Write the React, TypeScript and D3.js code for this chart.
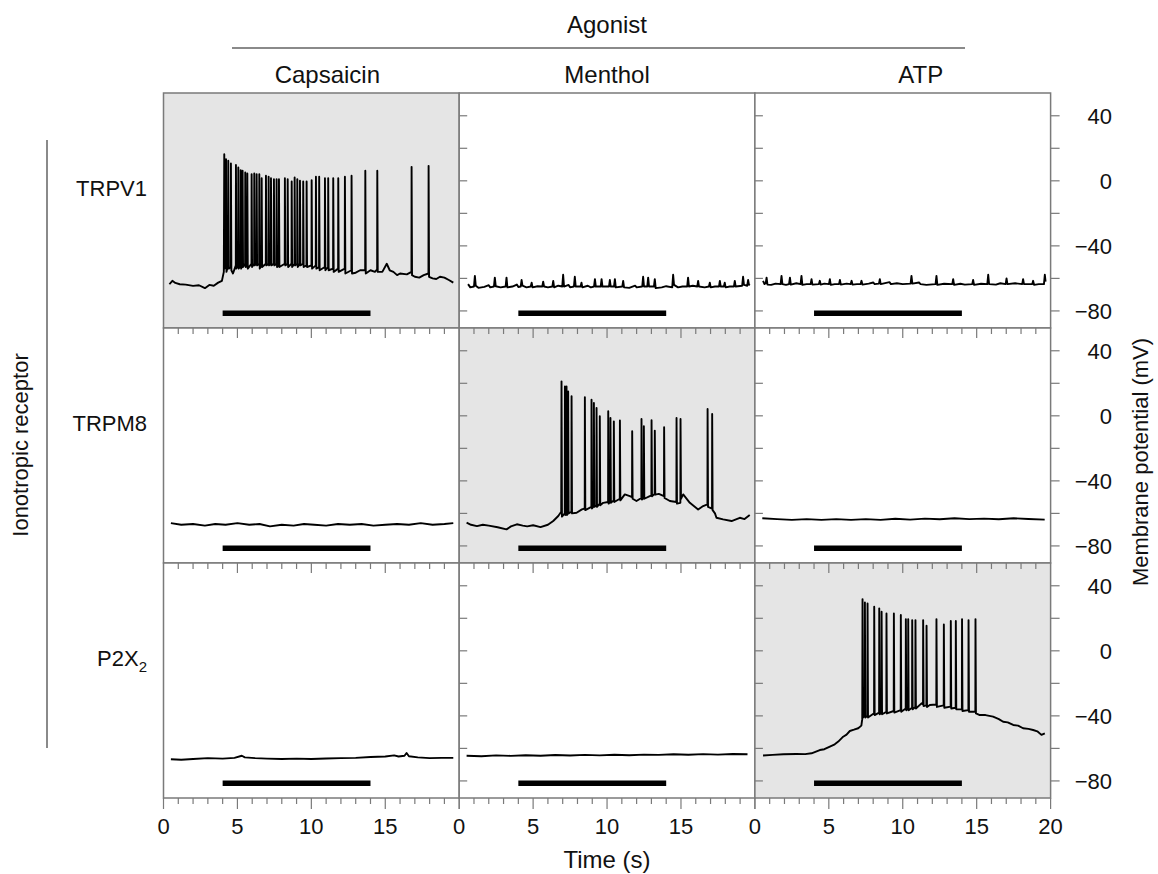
import React from "react";
import * as d3 from "d3";

// agonists (columns) and receptors (rows)
const agonists = ["Capsaicin", "Menthol", "ATP"];
const receptors = ["TRPV1", "TRPM8", "P2X2"];
const activePairs = [[0, 0], [1, 1], [2, 2]];

const timeTicks = d3.range(0, 21, 1);
const timeLabels = [0, 5, 10, 15, 20];
const mvTicks = [-80, -60, -40, -20, 0, 20, 40];
const mvLabels = [40, 0, -40, -80];

// stimulus bar (s) and its level (mV)
const stimulus = [4, 14];
const stimulusLevel = -81.5;

// traces: [time s, membrane potential mV]
const trpv1Capsaicin = [
  [0.4, -63.6], [0.6, -61.5], [0.8, -62.8], [1.1, -63.6], [1.5, -63.8], [2.0, -64.6], [2.4, -64.2], [2.8, -66],
  [3.1, -64], [3.4, -64.5], [3.7, -62.6], [3.95, -61.5], [4.08, -56],
  [4.11, 16.4], [4.14, -54], [4.22, -51], [4.23, 13.3], [4.26, -56], [4.37, -52], [4.38, 12.3], [4.41, -54],
  [4.55, -53], [4.56, 10.7], [4.59, -55], [4.7, -57], [4.89, -52], [4.9, 9.8], [4.93, -54], [5.05, -52], [5.06, 8.2],
  [5.09, -54], [5.21, -52], [5.22, 6.6], [5.25, -54], [5.34, -52], [5.35, 6.2], [5.38, -53], [5.52, -51], [5.53, 5.1],
  [5.56, -53], [5.66, -52], [5.67, 4.5], [5.7, -54], [5.95, -51], [5.96, 4.1], [5.99, -53], [6.13, -51], [6.14, 4.5],
  [6.17, -52], [6.29, -51], [6.3, 4.1], [6.33, -52], [6.47, -51], [6.48, 4.1], [6.51, -54], [6.63, -52], [6.64, 1.6],
  [6.67, -53], [6.92, -51], [6.93, 3.1], [6.96, -52], [7.1, -51], [7.11, 2.5], [7.14, -52], [7.26, -51], [7.27, 1.6],
  [7.3, -52], [7.46, -51], [7.47, 1.0], [7.5, -52], [7.64, -51], [7.65, 1.0], [7.68, -53], [7.8, -52], [7.81, 1.0],
  [7.84, -53], [8.2, -51], [8.21, 1.6], [8.24, -52], [8.39, -51], [8.4, 1.0], [8.43, -53], [8.66, -51], [8.67, -0.4],
  [8.7, -53], [8.86, -51], [8.87, 2.0], [8.9, -52], [9.04, -51], [9.05, 1.0], [9.08, -53], [9.22, -51], [9.23, 0],
  [9.26, -52], [9.44, -51], [9.45, -0.4], [9.48, -53], [9.67, -52], [9.68, -0.4], [9.71, -53], [10.01, -52],
  [10.02, 0.4], [10.05, -54], [10.3, -52], [10.31, 2.5], [10.34, -54], [10.52, -53], [10.53, 2.5], [10.56, -55],
  [10.91, -53], [10.92, 1.6], [10.95, -55], [11.13, -53], [11.14, 1.6], [11.17, -55], [11.47, -54], [11.48, 1.6],
  [11.51, -56], [11.81, -54], [11.82, 1.6], [11.85, -56], [12.26, -54], [12.27, 2.5], [12.3, -57], [12.71, -55],
  [12.72, 3.1], [12.75, -57], [13.0, -56.5], [13.3, -55], [13.64, -55], [13.65, 6.2], [13.68, -57], [14.0, -55],
  [14.3, -56], [14.45, -54.5], [14.46, 6.2], [14.49, -56], [14.8, -56], [15.1, -51], [15.3, -55], [15.55, -56],
  [15.8, -58], [16.0, -57], [16.46, -57.5], [16.77, -56], [16.78, 8.6], [16.81, -58], [17.0, -59], [17.3, -59.5],
  [17.6, -58], [17.92, -57], [17.93, 9.2], [17.96, -59], [18.2, -60], [18.45, -60.4], [18.7, -59], [19.0, -59.5],
  [19.3, -61], [19.6, -62.6],
];

const trpv1Menthol = [
  [0.6, -63.5], [0.75, -65.5], [1.0, -65], [1.06, -58.5], [1.12, -64.5], [1.3, -65.8], [1.7, -65.2], [2.0, -64.2],
  [2.1, -65.5], [2.35, -65], [2.41, -59.5], [2.47, -64.8], [2.8, -65.5], [3.14, -65], [3.2, -59.5], [3.26, -65.5],
  [3.6, -65], [3.9, -63.8], [4.0, -65.3], [4.16, -65], [4.22, -61], [4.28, -64.5], [4.55, -65.5], [4.84, -65],
  [4.9, -62.6], [4.96, -65.5], [5.3, -64.8], [5.62, -65], [5.68, -62], [5.74, -65], [6.0, -65.5], [6.3, -65],
  [6.36, -61.5], [6.42, -65.5], [6.7, -64.5], [6.97, -65], [7.03, -57.8], [7.09, -65], [7.4, -64], [7.5, -65.5],
  [7.76, -65], [7.82, -59], [7.88, -65], [8.21, -65], [8.27, -62.6], [8.33, -65.5], [8.7, -64.5], [8.9, -65.5],
  [9.12, -65], [9.18, -60.5], [9.24, -65], [9.57, -65], [9.63, -60.5], [9.69, -65], [10.13, -65], [10.19, -61],
  [10.25, -65], [10.47, -65], [10.53, -60.5], [10.59, -65.5], [11.03, -65], [11.09, -61.5], [11.15, -65.5],
  [11.5, -65.8], [11.9, -64.5], [12.0, -65.5], [12.38, -65], [12.44, -59], [12.5, -65], [12.72, -65], [12.78, -59.5],
  [12.84, -65], [13.17, -65], [13.23, -60.5], [13.29, -66], [13.7, -65.5], [14.0, -64.8], [14.41, -65.5],
  [14.47, -57.8], [14.53, -64], [14.8, -65.5], [15.1, -65], [15.42, -65], [15.48, -59.5], [15.54, -65], [15.8, -64.5],
  [16.1, -65], [16.16, -61.5], [16.22, -65], [16.6, -65.5], [16.89, -65], [16.95, -62.6], [17.01, -65.5], [17.3, -65],
  [17.57, -65], [17.63, -61.5], [17.69, -65], [17.9, -65], [17.96, -62.6], [18.02, -65.5], [18.3, -65], [18.58, -65],
  [18.64, -61.5], [18.7, -65], [19.14, -64.5], [19.2, -59], [19.26, -64], [19.48, -64.5], [19.54, -61], [19.6, -64],
  [19.65, -63.5],
];

const trpv1Atp = [
  [0.55, -61.5], [0.65, -63.5], [0.73, -63], [0.79, -59.5], [0.85, -63.8], [1.1, -64], [1.4, -63.2], [1.74, -63.5],
  [1.8, -58.5], [1.86, -63.5], [2.1, -64], [2.31, -63.5], [2.37, -59.5], [2.43, -63.8], [2.8, -63], [3.09, -63.5],
  [3.15, -58.5], [3.21, -64], [3.5, -63.5], [3.77, -63.5], [3.83, -60.5], [3.89, -63.8], [4.33, -63.5], [4.39, -61.5],
  [4.45, -63.8], [4.7, -63.2], [5.01, -63.5], [5.07, -60.5], [5.13, -64], [5.4, -63.5], [5.69, -63.5], [5.75, -61],
  [5.81, -63.8], [6.2, -63.2], [6.48, -63.5], [6.54, -61.5], [6.6, -63.8], [6.9, -63.5], [7.15, -63.5], [7.21, -61.5],
  [7.27, -63.8], [7.7, -63.2], [8.0, -62.5], [8.1, -63.5], [8.39, -63.2], [8.45, -60.5], [8.51, -63.5], [9.1, -62.3],
  [9.2, -63.5], [9.6, -63], [10.0, -63.5], [10.53, -63.2], [10.59, -58.5], [10.65, -63.2], [11.1, -62.5],
  [11.2, -63.5], [11.6, -64], [12.22, -63.5], [12.28, -58.5], [12.34, -64], [12.8, -63.3], [13.35, -63.5],
  [13.41, -60.5], [13.47, -64], [13.9, -63.3], [14.2, -63.8], [14.7, -63.5], [14.76, -61], [14.82, -64], [15.3, -63.3],
  [15.72, -63.5], [15.78, -57.8], [15.84, -63.5], [16.3, -63.8], [16.6, -63], [16.96, -63.5], [17.02, -60],
  [17.08, -63.5], [17.6, -63], [18.08, -63.5], [18.14, -60.5], [18.2, -63.5], [18.76, -63.5], [18.82, -61.5],
  [18.88, -64], [19.2, -63.5], [19.55, -63.5], [19.61, -57.8], [19.66, -62],
];

const trpm8Capsaicin = [
  [0.5, -66], [1.2, -67], [2.0, -66.5], [2.8, -67.5], [3.5, -66.5], [4.2, -67], [5.0, -66], [5.8, -67], [6.5, -66.5],
  [7.2, -68], [8.0, -67], [8.8, -67.5], [9.5, -66.5], [10.2, -67], [11.0, -67.5], [11.8, -66.5], [12.6, -67],
  [13.4, -66.5], [14.2, -67.5], [15.0, -67], [15.8, -66.5], [16.6, -67], [17.4, -66], [18.2, -67], [19.0, -66.5],
  [19.6, -66],
];

const trpm8Menthol = [
  [0.5, -65.7], [0.8, -67], [1.2, -67.8], [1.6, -67], [2.0, -67.5], [2.6, -68.5], [3.2, -69.8], [3.5, -68],
  [3.9, -66.7], [4.3, -67.5], [4.6, -68], [5.0, -67.3], [5.5, -68.4], [6.0, -67], [6.36, -64.7], [6.7, -61.6],
  [6.9, -59],
  [6.92, 21.2], [6.95, -62], [7.14, -60], [7.15, 18.1], [7.18, -61], [7.25, -60], [7.26, 18.1], [7.29, -61],
  [7.36, -60], [7.37, 15], [7.4, -60], [7.59, -59], [7.6, 12], [7.63, -60], [7.94, -59.6], [8.3, -57.5], [8.49, -57],
  [8.5, 11.4], [8.53, -58], [8.94, -56], [8.95, 9.9], [8.98, -57], [9.1, -55.5], [9.11, 7.9], [9.14, -56],
  [9.28, -55], [9.29, 4.8], [9.32, -56], [9.5, -54], [9.51, -0.3], [9.54, -55], [9.74, -53.5], [10.07, -53],
  [10.08, 2.8], [10.11, -54], [10.22, -52.5], [10.23, -1.3], [10.26, -53.5], [10.45, -52], [10.46, -3.4],
  [10.49, -53], [10.86, -51], [10.87, -2.9], [10.9, -52], [11.2, -48.3], [11.54, -49.4], [11.69, -50], [11.7, -9.5],
  [11.73, -51], [11.99, -52.4], [12.32, -50.5], [12.33, -1.9], [12.36, -51.5], [12.48, -50.5], [12.49, -6.4],
  [12.52, -51], [12.89, -49.4], [13.0, -49], [13.01, -2.7], [13.04, -49.5], [13.22, -48], [13.23, -9.1],
  [13.26, -48.5], [13.5, -48], [13.85, -49.4], [13.86, -7], [13.89, -50.5], [14.25, -52.4], [14.69, -53],
  [14.7, -1.3], [14.73, -54], [14.96, -53.5], [14.97, -1.9], [15.0, -51], [15.15, -48.3], [15.6, -53.5],
  [16.16, -57.6], [16.5, -55.5], [16.79, -54.5], [16.8, 4.2], [16.83, -56], [17.1, -57], [17.11, 1.1], [17.14, -58],
  [17.3, -60], [17.4, -62.7], [17.85, -63.7], [18.42, -64.7], [18.98, -62.7], [19.3, -63.5], [19.65, -61],
];

const trpm8Atp = [
  [0.5, -63], [1.5, -63.5], [2.5, -64], [3.5, -63.5], [4.5, -64], [5.5, -63.5], [6.5, -64], [7.5, -63.5], [8.5, -64],
  [9.5, -63.3], [10.5, -63.8], [11.5, -63.2], [12.5, -63.6], [13.5, -63], [14.5, -63.5], [15.5, -63.2],
  [16.5, -63.6], [17.5, -63], [18.5, -63.4], [19.6, -63.8],
];

const p2x2Capsaicin = [
  [0.5, -66.7], [1.2, -67], [2.0, -66.5], [3.0, -66], [4.0, -66.3], [4.8, -65.8], [5.3, -64.5], [5.5, -65.5],
  [6.2, -66], [7.0, -66.3], [8.0, -66.5], [9.0, -66.3], [10.0, -66.5], [11.0, -66.2], [12.0, -66], [13.0, -65.8],
  [14.0, -65.3], [15.0, -65], [15.6, -64.3], [15.9, -65], [16.3, -64.5], [16.44, -62.8], [16.6, -64.8],
  [17.2, -65.5], [18.0, -66], [18.8, -65.8], [19.6, -65.8],
];

const p2x2Menthol = [
  [0.5, -64.5], [1.5, -64.8], [2.5, -64.3], [3.5, -64.6], [4.5, -64.2], [5.5, -64.5], [6.5, -64.1], [7.5, -64.4],
  [8.5, -64], [9.5, -64.3], [10.5, -63.9], [11.5, -64.2], [12.5, -63.8], [13.5, -64], [14.5, -63.6], [15.5, -63.9],
  [16.5, -63.5], [17.5, -63.8], [18.5, -63.4], [19.5, -63.6],
];

const p2x2Atp = [
  [0.55, -64.4], [1.2, -64], [1.92, -63.6], [2.8, -63.4], [3.4, -63.5], [3.83, -63], [4.39, -61], [4.7, -60.5],
  [5.07, -58.9], [5.4, -57.5], [5.64, -55.8], [5.97, -52.8], [6.2, -51.5], [6.42, -49.3], [6.7, -48.5],
  [6.99, -47.6], [7.2, -46], [7.26, -42],
  [7.28, 31.8], [7.31, -41], [7.43, -40], [7.44, 29.8], [7.47, -41], [7.61, -40], [7.62, 29.1], [7.65, -41],
  [8.06, -38.4], [8.07, 27.1], [8.1, -39.5], [8.4, -38], [8.41, 26.1], [8.44, -39], [8.56, -38], [8.57, 24],
  [8.6, -39], [8.89, -37.5], [8.9, 23], [8.93, -38.5], [9.39, -37], [9.4, 23], [9.43, -38], [9.86, -36.4], [9.87, 22],
  [9.9, -37.5], [10.2, -35.5], [10.21, 19.5], [10.24, -36.5], [10.36, -35.5], [10.37, 19.5], [10.4, -36.5],
  [10.63, -35], [10.64, 18.9], [10.67, -36], [10.85, -34.5], [10.86, 18.9], [10.89, -35.5], [11.27, -32.3],
  [11.37, -33], [11.38, 18.9], [11.41, -34], [11.6, -33.5], [11.61, 15.4], [11.64, -34.5], [11.83, -33.3],
  [12.27, -33], [12.28, 19.5], [12.31, -34.5], [12.77, -33.5], [12.78, 16.2], [12.81, -35], [13.24, -34.3],
  [13.25, 18.3], [13.28, -35.5], [13.58, -35], [13.59, 18.3], [13.62, -36], [14.0, -36], [14.01, 19.5], [14.04, -37],
  [14.44, -36.5], [14.45, 18.9], [14.48, -37.5], [14.91, -37.4], [14.92, 19.5], [14.95, -38.5], [15.21, -39.5],
  [15.6, -39.5], [16.11, -40.5], [16.5, -42], [16.79, -43.6], [17.1, -44], [17.47, -45.6], [17.8, -46],
  [18.14, -47.6], [18.5, -48], [18.82, -48.7], [19.1, -49.5], [19.38, -51.7], [19.61, -50.7],
];

// rows = receptors, columns = agonists
const traces = [
  [trpv1Capsaicin, trpv1Menthol, trpv1Atp],
  [trpm8Capsaicin, trpm8Menthol, trpm8Atp],
  [p2x2Capsaicin, p2x2Menthol, p2x2Atp],
];

const W = 1158;
const H = 874;
const left = 163.5;
const panelW = 295.7;
const top = 93;
const rowH = 235;
const font = "'Liberation Sans', Arial, Helvetica, sans-serif";
const axisGray = "#7a7a7a";

export default function App() {
  const xs = agonists.map((_, c) =>
    d3.scaleLinear().domain([0, 20]).range([left + c * panelW, left + (c + 1) * panelW])
  );
  const ys = receptors.map((_, r) =>
    d3.scaleLinear().domain([-90.5, 54]).range([top + (r + 1) * rowH, top + r * rowH])
  );
  const bottom = top + 3 * rowH;
  const right = left + 3 * panelW;

  const line = (x, y) =>
    d3.line().x(d => x(d[0])).y(d => y(d[1]));

  const isActive = (r, c) => activePairs.some(p => p[0] === r && p[1] === c);

  return (
    <svg width={W} height={H} style={{ position: "absolute", left: 0, top: 0, background: "#fff" }}
      fontFamily={font} fontSize={22} fill="#111">
      {/* headers */}
      <text x={607} y={33} textAnchor="middle" fontSize={24}>Agonist</text>
      <line x1={232} x2={965} y1={48} y2={48} stroke="#8a8a8a" strokeWidth={2} />
      {agonists.map((a, c) => (
        <text key={a} x={(xs[c](0) + xs[c](20)) / 2 + [16, 0, 18][c]} y={83} textAnchor="middle"
          fontSize={24}>{a}</text>
      ))}
      <line x1={47} x2={47} y1={140} y2={748} stroke="#8a8a8a" strokeWidth={2} />
      <text transform="translate(28,445) rotate(-90)" textAnchor="middle">Ionotropic receptor</text>
      {receptors.map((rec, r) => {
        const cy = (ys[r].range()[0] + ys[r].range()[1]) / 2 - 15;
        return rec === "P2X2" ? (
          <text key={rec} x={147} y={cy} textAnchor="end">
            P2X<tspan fontSize={15} dy={6}>2</tspan>
          </text>
        ) : (
          <text key={rec} x={147} y={cy} textAnchor="end">{rec}</text>
        );
      })}

      {/* panels */}
      {receptors.map((_, r) =>
        agonists.map((__, c) => {
          const x = xs[c], y = ys[r];
          return (
            <g key={`p${r}${c}`}>
              <rect x={x(0)} y={y(54)} width={x(20) - x(0)} height={y(-90.5) - y(54)}
                fill={isActive(r, c) ? "#e5e5e5" : "#fff"} stroke={axisGray} strokeWidth={1.5} />
              {c > 0 && mvTicks.map(v => (
                <line key={v} x1={x(0)} x2={x(0) + 8} y1={y(v)} y2={y(v)} stroke={axisGray} strokeWidth={1.2} />
              ))}
              {r > 0 && timeTicks.filter(t => t > 0 && t < 20).map(t => (
                <line key={t} x1={x(t)} x2={x(t)} y1={y(54)} y2={y(54) + (t % 5 === 0 ? 10 : 6)}
                  stroke={axisGray} strokeWidth={1.2} />
              ))}
              <line x1={x(stimulus[0])} x2={x(stimulus[1])} y1={y(stimulusLevel)} y2={y(stimulusLevel)}
                stroke="#000" strokeWidth={5.5} />
              <path d={line(x, y)(traces[r][c])} fill="none" stroke="#000" strokeWidth={1.9}
                strokeLinejoin="round" />
            </g>
          );
        })
      )}

      {/* bottom axis */}
      {agonists.map((_, c) => (
        <g key={`bx${c}`}>
          {timeTicks.map(t => (
            <line key={t} x1={xs[c](t)} x2={xs[c](t)} y1={bottom} y2={bottom + (t % 5 === 0 ? 11 : 6)}
              stroke={axisGray} strokeWidth={1.2} />
          ))}
          {timeLabels.filter(t => c === 2 || t < 20).map(t => (
            <text key={t} x={xs[c](t)} y={834} textAnchor="middle">{t}</text>
          ))}
        </g>
      ))}
      <text x={607} y={868} textAnchor="middle" fontSize={24}>Time (s)</text>

      {/* right axis */}
      {receptors.map((_, r) => (
        <g key={`ry${r}`}>
          {mvTicks.map(v => (
            <line key={v} x1={right} x2={right + 9} y1={ys[r](v)} y2={ys[r](v)} stroke={axisGray} strokeWidth={1.2} />
          ))}
          {mvLabels.map(v => (
            <text key={v} x={1112} y={ys[r](v)} dy="0.36em" textAnchor="end">
              {v < 0 ? `\u2212${Math.abs(v)}` : v}
            </text>
          ))}
        </g>
      ))}
      <text transform="translate(1148,462) rotate(-90)" textAnchor="middle">Membrane potential (mV)</text>
    </svg>
  );
}
